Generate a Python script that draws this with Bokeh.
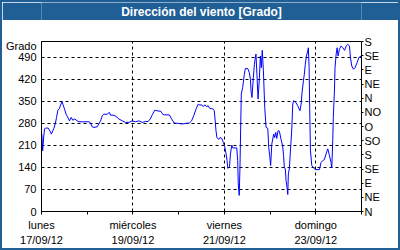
from bokeh.plotting import figure
from bokeh.layouts import column
from bokeh.models import LinearAxis, FixedTicker, Range1d, Grid
from bokeh.core.properties import value
from bokeh.embed import file_html
from bokeh.resources import INLINE

# hours since Monday 17/09/12 00:00
horas = [0.2, 0.6, 1.2, 1.6, 2.1, 3.5, 4.4, 5.2, 6.5, 7.3, 7.9, 8.6, 9.4, 10.0, 10.8, 11.2,
         12.1, 12.9, 14.0, 14.7, 15.6, 16.4, 17.5, 18.7, 19.6, 21.4, 24.9, 25.7, 26.6, 27.5,
         29.2, 30.1, 31.0, 31.9, 32.7, 34.5, 35.7, 36.2, 37.5, 38.9, 40.6, 42.4, 44.1, 45.9,
         47.6, 49.4, 51.1, 52.9, 54.6, 56.0, 57.1, 58.3, 59.5, 60.6, 62.7, 63.6, 64.4, 67.1,
         68.3, 69.7, 71.5, 74.1, 75.8, 77.6, 78.8, 79.9, 81.1, 82.3, 83.2, 84.1, 84.9, 85.8,
         86.7, 87.5, 88.4, 89.3, 90.2, 90.7, 91.2, 91.6, 92.1, 93.0, 93.7, 94.7, 95.4, 96.2,
         96.9, 97.4, 97.8, 98.7, 99.2, 99.9, 100.4, 102.5, 103.0, 103.3, 103.8, 104.2, 104.6,
         104.9, 105.6, 106.5, 107.0, 108.3, 109.1, 109.7, 110.0, 110.5, 111.2, 111.8, 112.3,
         112.6, 113.1, 113.7, 114.4, 114.9, 115.4, 115.9, 116.5, 117.2, 117.9, 118.8, 119.3,
         119.8, 120.3, 120.9, 121.4, 121.9, 122.4, 123.0, 123.5, 124.2, 124.9, 125.8, 126.6,
         127.1, 127.5, 128.0, 128.4, 128.9, 129.3, 129.6, 130.1, 130.6, 131.4, 131.9, 132.4,
         133.6, 134.5, 135.7, 136.3, 136.8, 137.5, 138.0, 138.5, 139.1, 139.8, 140.1, 140.5,
         140.8, 141.2, 141.9, 142.8, 143.8, 145.9, 146.8, 147.7, 148.5, 149.4, 150.3, 151.2,
         152.0, 152.4, 152.9, 153.2, 153.8, 154.1, 154.7, 155.2, 155.7, 156.4, 157.3, 158.2,
         159.1, 160.0, 160.8, 161.7, 162.2, 162.9, 163.8, 164.6, 165.7, 166.6, 167.8]
grados = [245, 193, 240, 262, 265, 265, 256, 246, 264, 280, 299, 322, 327, 338, 349, 341,
          325, 309, 297, 288, 299, 290, 294, 288, 285, 285, 285, 282, 269, 267,
          269, 278, 288, 304, 309, 309, 315, 306, 306, 303, 294, 288, 283, 283,
          288, 285, 288, 283, 286, 286, 294, 309, 322, 320, 318, 309, 307, 307,
          294, 281, 280, 278, 280, 281, 288, 304, 325, 341, 338, 339, 333, 339,
          333, 336, 327, 327, 325, 320, 288, 257, 235, 229, 235, 232, 220, 206,
          183, 162, 137, 142, 183, 211, 202, 202, 162, 88, 51, 141, 278,
          373, 394, 436, 454, 454, 441, 420, 383, 362, 425, 468, 491,
          500, 436, 357, 425, 494, 457, 512, 447, 330, 267, 264, 204,
          177, 146, 214, 230, 246, 235, 251, 232, 257, 255, 228, 209,
          177, 140, 135, 98, 77, 54, 119, 135, 183, 262, 341, 352,
          346, 336, 320, 341, 378, 415, 436, 468, 494, 510, 520, 457,
          330, 193, 146, 138, 133, 133, 156, 162, 165, 183, 199, 177,
          156, 138, 225, 299, 383, 457, 500, 520, 494, 515, 526, 520,
          512, 526, 531, 526, 489, 462, 452, 457, 473, 489, 494]

titulo = "Dirección del viento [Grado]"
unidad = "Grado"
unidad_pos = 526
dias_ticks = [0, 48, 96, 144]
dias_menores = [24, 72, 120, 168]
dias_nombres = ["lunes", "miércoles", "viernes", "domingo"]
dias_fechas = ["17/09/12", "19/09/12", "21/09/12", "23/09/12"]
grado_ticks = [0, 70, 140, 210, 280, 350, 420, 490]
rumbo_ticks = [0, 45, 90, 135, 180, 225, 270, 315, 360, 405, 450, 495, 540]
rumbo_labels = ["N", "NE", "E", "SE", "S", "SO", "O", "NO", "N", "NE", "E", "SE", "S"]

FONT = "Liberation Sans"
BLUE = "#1f5f96"

# ---- title bar ----
t = figure(width=396, height=18, output_backend="svg", toolbar_location=None,
           x_range=Range1d(0, 1), y_range=Range1d(0, 1),
           min_border=0, x_axis_type=None, y_axis_type=None)
t.background_fill_color = BLUE
t.border_fill_color = BLUE
t.outline_line_color = None
t.xgrid.grid_line_color = None
t.ygrid.grid_line_color = None
t.text(x=[0.5], y=[0.5], text=[titulo], text_align="center", text_baseline="middle",
       text_font=value(FONT), text_font_style="bold", text_font_size="12px",
       text_color="white")

# ---- main chart ----
p = figure(width=396, height=228, output_backend="svg", toolbar_location=None,
           x_range=Range1d(0, 168), y_range=Range1d(0, 540),
           min_border_left=39, min_border_right=37, min_border_top=21, min_border_bottom=37,
           x_axis_type=None, y_axis_type=None)
p.background_fill_color = "white"
p.border_fill_color = "white"
p.outline_line_color = "black"
p.outline_line_width = 1

ax1 = LinearAxis(ticker=FixedTicker(ticks=dias_ticks, minor_ticks=dias_menores),
                 major_label_overrides={t_: n for t_, n in zip(dias_ticks, dias_nombres)})
ax1.major_tick_in = 0
ax1.major_tick_out = 3
ax1.minor_tick_in = 0
ax1.minor_tick_out = 3
ax1.major_label_standoff = 4
ax2 = LinearAxis(ticker=FixedTicker(ticks=dias_ticks),
                 major_label_overrides={t_: n for t_, n in zip(dias_ticks, dias_fechas)})
ax2.axis_line_color = None
ax2.major_tick_line_color = None
ax2.minor_tick_line_color = None
ax2.major_tick_in = 0
ax2.major_tick_out = 0
ax2.major_label_standoff = 0
for ax in (ax1, ax2):
    ax.major_label_text_font = FONT
    ax.major_label_text_font_size = "11px"
    ax.major_label_text_color = "black"
p.add_layout(ax1, "below")
p.add_layout(ax2, "below")

ayl = LinearAxis(ticker=FixedTicker(ticks=grado_ticks + [unidad_pos], minor_ticks=[]),
                 major_label_overrides={unidad_pos: unidad})
ayl.major_tick_in = 0
ayl.major_tick_out = 0
ayl.major_label_standoff = 5
ayr = LinearAxis(ticker=FixedTicker(ticks=rumbo_ticks, minor_ticks=[]),
                 major_label_overrides={t_: n for t_, n in zip(rumbo_ticks, rumbo_labels)})
ayr.major_tick_in = 0
ayr.major_tick_out = 2
ayr.major_label_standoff = 1
for ax in (ayl, ayr):
    ax.major_label_text_font = FONT
    ax.major_label_text_font_size = "11px"
    ax.major_label_text_color = "black"
p.add_layout(ayl, "left")
p.add_layout(ayr, "right")

p.xgrid.grid_line_color = None
p.ygrid.grid_line_color = None
p.add_layout(Grid(dimension=0, ticker=FixedTicker(ticks=dias_ticks),
                  grid_line_color="black", grid_line_dash="3 3"))
p.add_layout(Grid(dimension=1, ticker=FixedTicker(ticks=grado_ticks),
                  grid_line_color="black", grid_line_dash="3 3"))

p.line(horas, grados, line_color="#0000ff", line_width=1)

layout = column(t, p, spacing=0,
                styles={"border": f"2px solid {BLUE}", "background-color": "white"})

open("out.html", "w").write(file_html(layout, INLINE))
